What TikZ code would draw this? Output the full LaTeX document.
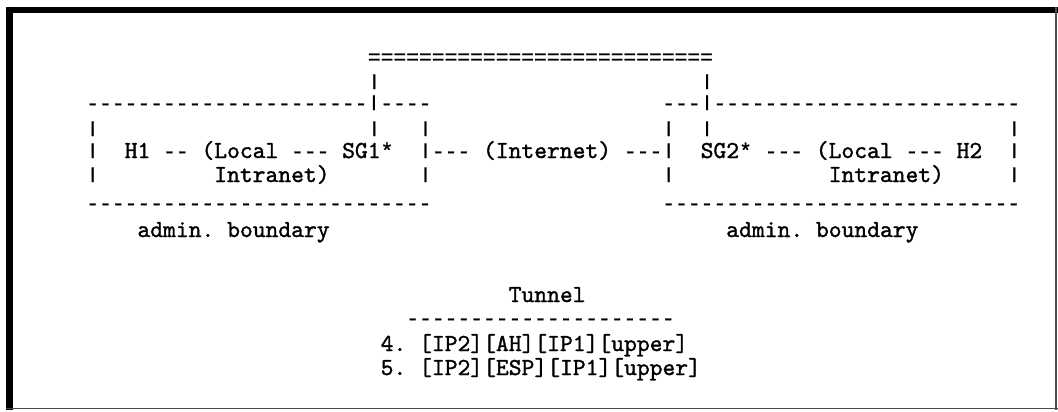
\documentclass[tikz,border=0pt]{standalone}
\usepackage{graphicx}
\usepackage{fontspec}
% rules, bars and asterisks
\setmonofont{Liberation Mono}[BoldFont={Liberation Mono}, BoldFeatures={FakeBold=1.2}]
% letters: slab-serif typewriter face
\newfontfamily\slabtt{lmmono10-regular.otf}[BoldFont={lmmono10-regular.otf}, BoldFeatures={FakeBold=1.3}]
\tikzset{
  asc/.style={anchor=base west, inner sep=0pt, outer sep=0pt, text=black,
    font=\ttfamily\bfseries\fontsize{21.3}{25}\selectfont\frenchspacing},
  frameheavy/.style={line width=6.4pt, black},
  framelight/.style={line width=1.4pt, black!70}
}
\newcommand\w[1]{{\slabtt\bfseries\fontsize{24.4}{28}\selectfont\frenchspacing #1}}
% short typewriter-style vertical bar
\newcommand\vb{\raisebox{0.15em}{\scalebox{1}[0.74]{|}}}
% place monospaced text at a character column and a baseline (y grows downward)
\newcommand\asc[4]{\node[asc] (#1) at ({86.3+12.8*(#2)},#3) {#4};}
\begin{document}
\begin{tikzpicture}[x=1pt,y=-1pt]
\useasboundingbox (0,0) rectangle (1058,412);
\fill[white] (0,0) rectangle (1058,412);

% outer frame
\draw[frameheavy] (6,10.2) -- (1058,10.2);
\draw[frameheavy] (9.4,7) -- (9.4,410);
\draw[framelight] (6,408.5) -- (1058,408.5);
\draw[framelight] (1056,7) -- (1056,410);

% tunnel line between the two gateways
\asc{eq}{22}{64}{===========================}
\asc{ta}{22}{89}{\vb}
\asc{tb}{48}{89}{\vb}

% top edges of the two administrative boxes
\asc{ltop}{0}{110}{----------------------\vb----}
\asc{rtop}{45}{110}{---\vb------------------------}

\asc{la}{0}{136}{\vb}
\asc{lb}{22}{136}{\vb}
\asc{lc}{26}{136}{\vb}
\asc{ra}{45}{136}{\vb}
\asc{rb}{48}{136}{\vb}
\asc{rc}{72}{136}{\vb}

% hosts, gateways and the Internet
\asc{lm}{0}{158}{\vb}
\asc{h1}{3}{158}{\w{H1} -- \w{(Local} --- \w{SG1}*}
\asc{net}{26}{158}{\vb--- \w{(Internet)} ---\vb}
\asc{h2}{48}{158}{\w{SG2}* --- \w{(Local} --- \w{H2}}
\asc{rm}{72}{158}{\vb}

\asc{ld}{0}{182}{\vb}
\asc{lint}{10}{182}{\w{Intranet)}}
\asc{le}{26}{182}{\vb}
\asc{rd}{45}{182}{\vb}
\asc{rint}{58}{182}{\w{Intranet)}}
\asc{re}{72}{182}{\vb}

% bottom edges of the boxes
\asc{lbot}{0}{210}{---------------------------}
\asc{rbot}{45}{210}{----------------------------}

\asc{ladm}{4}{237}{\w{admin. boundary}}
\asc{radm}{50}{237}{\w{admin. boundary}}

% header combinations carried through the tunnel
\asc{tun}{33}{302}{\w{Tunnel}}
\asc{tunrule}{25}{325}{---------------------}
\asc{ah}{23}{351}{\w{4. [IP2][AH][IP1][upper]}}
\asc{esp}{23}{375}{\w{5. [IP2][ESP][IP1][upper]}}
\end{tikzpicture}
\end{document}
